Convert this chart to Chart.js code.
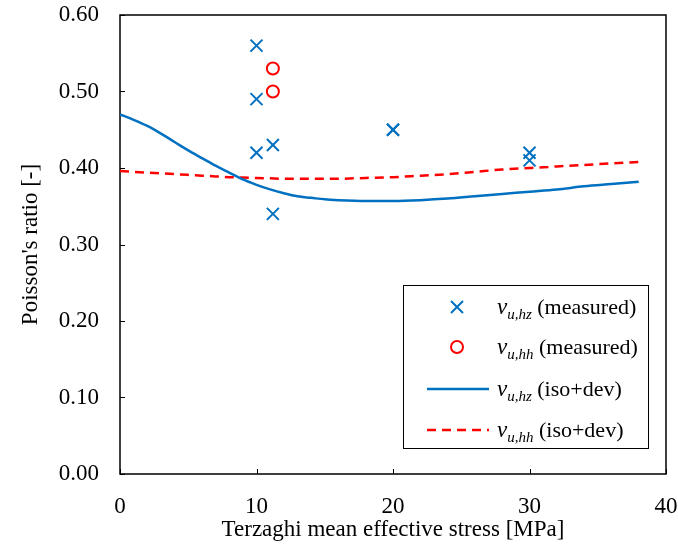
<!DOCTYPE html>
<html>
<head>
<meta charset="utf-8">
<script src="https://cdn.jsdelivr.net/npm/chart.js@4.4.1/dist/chart.umd.min.js"></script>
<style>
  html, body { margin: 0; padding: 0; background: #fff; }
  #wrap { width: 678px; height: 546px; position: relative; }
</style>
</head>
<body>
<div id="wrap"><canvas id="poissonChart" width="678" height="546"></canvas></div>
<script>
// measured points
const hzMeasStress = [10, 10, 10, 11.2, 11.2, 20, 20, 30, 30];
const hzMeasNu = [0.56, 0.49, 0.42, 0.43, 0.34, 0.45, 0.45, 0.42, 0.41];
const hhMeasStress = [11.2, 11.2];
const hhMeasNu = [0.53, 0.50];

// model curves (iso+dev)
const curveStress = [0, 1, 2, 3, 4, 5, 6, 7, 8, 9, 10, 11, 12, 13, 14, 15, 16, 18, 20, 22, 24, 26, 28, 30, 32, 34, 36, 38];
const hzModelNu = [0.470, 0.463, 0.455, 0.445, 0.434, 0.423, 0.413, 0.403, 0.394, 0.385, 0.378, 0.372, 0.367, 0.363, 0.361, 0.359, 0.358, 0.357, 0.357, 0.358, 0.360, 0.363, 0.366, 0.369, 0.372, 0.376, 0.379, 0.382];
const hhModelNu = [0.396, 0.395, 0.394, 0.393, 0.392, 0.391, 0.390, 0.389, 0.388, 0.3875, 0.387, 0.3865, 0.386, 0.386, 0.386, 0.386, 0.386, 0.387, 0.388, 0.390, 0.392, 0.395, 0.398, 0.400, 0.402, 0.404, 0.406, 0.408];

const xTicks = [0, 10, 20, 30, 40];
const yTicks = [0, 0.1, 0.2, 0.3, 0.4, 0.5, 0.6];

const BLUE = '#0070C0';
const RED = '#FF0000';
const FONT = '"Liberation Serif", "Times New Roman", serif';

function toPoints(xs, ys) {
  return xs.map((x, i) => ({ x: x, y: ys[i] }));
}

// box around the plot + inward tick marks
const framePlugin = {
  id: 'frame',
  beforeDatasetsDraw(chart) {
    const { ctx, chartArea: a, scales } = chart;
    ctx.save();
    ctx.strokeStyle = '#000';
    ctx.lineWidth = 1.5;
    ctx.strokeRect(a.left, a.top, a.right - a.left, a.bottom - a.top);
    ctx.lineWidth = 1;
    ctx.beginPath();
    xTicks.forEach(v => {
      const px = Math.round(scales.x.getPixelForValue(v)) + 0.5;
      ctx.moveTo(px, a.bottom);
      ctx.lineTo(px, a.bottom - 5);
    });
    yTicks.forEach(v => {
      const py = Math.round(scales.y.getPixelForValue(v)) + 0.5;
      ctx.moveTo(a.left, py);
      ctx.lineTo(a.left + 5, py);
    });
    ctx.stroke();
    ctx.restore();
  }
};

// legend with italic nu and subscripts
const legendItems = [
  { kind: 'cross', sub: 'u,hz', text: ' (measured)' },
  { kind: 'circle', sub: 'u,hh', text: ' (measured)' },
  { kind: 'line', sub: 'u,hz', text: ' (iso+dev)' },
  { kind: 'dash', sub: 'u,hh', text: ' (iso+dev)' },
];

const legendPlugin = {
  id: 'nuLegend',
  afterDraw(chart) {
    const ctx = chart.ctx;
    const box = { left: 403, top: 285, right: 648, bottom: 448 };
    const rows = [307, 347, 389, 430];
    ctx.save();
    ctx.fillStyle = '#fff';
    ctx.fillRect(box.left, box.top, box.right - box.left, box.bottom - box.top);
    ctx.strokeStyle = '#000';
    ctx.lineWidth = 1;
    ctx.strokeRect(box.left + 0.5, box.top + 0.5, box.right - box.left, box.bottom - box.top);

    legendItems.forEach((item, i) => {
      const y = rows[i];
      ctx.save();
      if (item.kind === 'cross') {
        ctx.strokeStyle = BLUE;
        ctx.lineWidth = 2;
        ctx.beginPath();
        ctx.moveTo(451, y - 6); ctx.lineTo(463, y + 6);
        ctx.moveTo(463, y - 6); ctx.lineTo(451, y + 6);
        ctx.stroke();
      } else if (item.kind === 'circle') {
        ctx.strokeStyle = RED;
        ctx.lineWidth = 2;
        ctx.beginPath();
        ctx.arc(457, y, 6, 0, Math.PI * 2);
        ctx.stroke();
      } else {
        ctx.strokeStyle = item.kind === 'line' ? BLUE : RED;
        ctx.lineWidth = 2.5;
        if (item.kind === 'dash') ctx.setLineDash([9, 6]);
        ctx.beginPath();
        ctx.moveTo(427, y); ctx.lineTo(489, y);
        ctx.stroke();
      }
      ctx.restore();

      let x = 497;
      const base = y + 7;
      ctx.fillStyle = '#000';
      ctx.textBaseline = 'alphabetic';
      ctx.textAlign = 'left';
      ctx.font = 'italic 23px ' + FONT;
      ctx.fillText('ν', x, base);
      x += ctx.measureText('ν').width;
      ctx.font = 'italic 15px ' + FONT;
      ctx.fillText(item.sub, x, base + 5);
      x += ctx.measureText(item.sub).width;
      ctx.font = '22px ' + FONT;
      ctx.fillText(item.text, x, base);
    });
    ctx.restore();
  }
};

const ctx = document.getElementById('poissonChart').getContext('2d');

new Chart(ctx, {
  type: 'scatter',
  data: {
    datasets: [
      {
        label: 'hz iso+dev',
        data: toPoints(curveStress, hzModelNu),
        showLine: true,
        borderColor: BLUE,
        borderWidth: 2.5,
        pointRadius: 0,
        cubicInterpolationMode: 'monotone',
      },
      {
        label: 'hh iso+dev',
        data: toPoints(curveStress, hhModelNu),
        showLine: true,
        borderColor: RED,
        borderWidth: 2.5,
        borderDash: [9, 6],
        pointRadius: 0,
        cubicInterpolationMode: 'monotone',
      },
      {
        label: 'hz measured',
        data: toPoints(hzMeasStress, hzMeasNu),
        pointStyle: 'crossRot',
        pointRadius: 8.5,
        pointBorderWidth: 2,
        borderColor: BLUE,
        backgroundColor: BLUE,
      },
      {
        label: 'hh measured',
        data: toPoints(hhMeasStress, hhMeasNu),
        pointStyle: 'circle',
        pointRadius: 6,
        pointBorderWidth: 2,
        borderColor: RED,
        backgroundColor: 'rgba(255,255,255,0)',
      },
    ],
  },
  options: {
    responsive: false,
    animation: false,
    events: [],
    layout: { padding: { top: 15, right: 12, left: 0, bottom: 0 } },
    plugins: {
      legend: { display: false },
      tooltip: { enabled: false },
    },
    scales: {
      x: {
        type: 'linear',
        min: 0,
        max: 40,
        afterFit: s => { s.height = 72; s.paddingLeft = 0; s.paddingRight = 0; },
        afterBuildTicks: s => { s.ticks = xTicks.map(v => ({ value: v })); },
        grid: { display: false, drawTicks: false },
        border: { display: false },
        ticks: {
          padding: 19,
          color: '#000',
          font: { family: FONT, size: 23 },
        },
        title: {
          display: true,
          text: 'Terzaghi mean effective stress [MPa]',
          color: '#000',
          font: { family: FONT, size: 23 },
          padding: { top: 0, bottom: 2 },
        },
      },
      y: {
        type: 'linear',
        min: 0,
        max: 0.6,
        afterFit: s => { s.width = 120; s.paddingTop = 0; s.paddingBottom = 0; },
        afterBuildTicks: s => { s.ticks = yTicks.map(v => ({ value: v })); },
        grid: { display: false, drawTicks: false },
        border: { display: false },
        ticks: {
          padding: 21,
          color: '#000',
          font: { family: FONT, size: 23 },
          callback: v => v.toFixed(2),
        },
        title: {
          display: true,
          text: "Poisson's ratio [-]",
          color: '#000',
          font: { family: FONT, size: 23 },
          padding: { top: 17, bottom: 0 },
        },
      },
    },
  },
  plugins: [framePlugin, legendPlugin],
});
</script>
</body>
</html>
